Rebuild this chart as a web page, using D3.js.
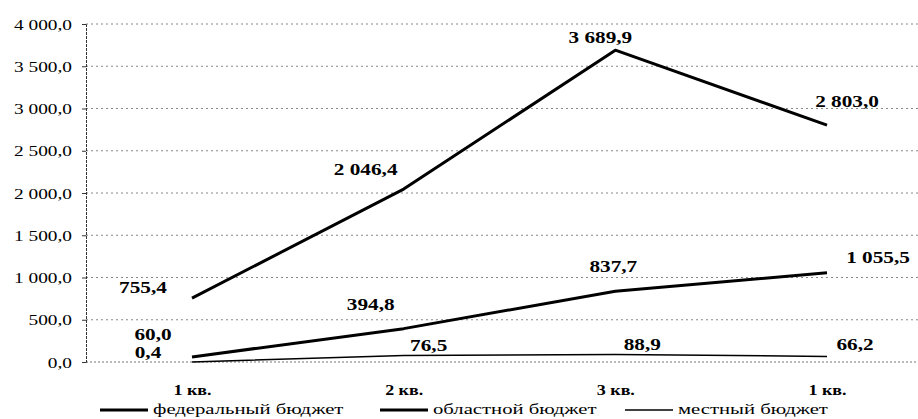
<!DOCTYPE html>
<html>
<head>
<meta charset="utf-8">
<script src="https://cdn.jsdelivr.net/npm/d3@7"></script>
<style>
  html, body { margin: 0; padding: 0; background: #fff; }
  svg { display: block; }
</style>
</head>
<body>
<svg id="chart" width="918" height="419"></svg>
<script>
// Quarters on the x axis
const quarters = ["1 кв.", "2 кв.", "3 кв.", "1 кв. "];
const quarterLabels = ["1 кв.", "2 кв.", "3 кв.", "1 кв."];

// Budget series
const federal = [755.4, 2046.4, 3689.9, 2803.0];
const regional = [60.0, 394.8, 837.7, 1055.5];
const local = [0.4, 76.5, 88.9, 66.2];

const seriesNames = ["федеральный бюджет", "областной бюджет", "местный бюджет"];

// Y axis ticks
const yTicks = [0, 500, 1000, 1500, 2000, 2500, 3000, 3500, 4000];

const FONT = "'Liberation Serif'";
// Glyphs are drawn horizontally widened
const SX = 1.38;

const svg = d3.select("#chart");
const fmt = v => {
  const s = d3.format(",.1f")(v);
  return s.replace(/,/g, " ").replace(".", ",");
};

const x = d3.scalePoint().domain(quarters).range([192, 827]);
const y = d3.scaleLinear().domain([0, 4000]).range([362, 24]);

// Dotted horizontal gridlines
svg.append("g").selectAll("line").data(yTicks.slice(1)).join("line")
  .attr("x1", 86).attr("x2", 918)
  .attr("y1", d => y(d)).attr("y2", d => y(d))
  .attr("stroke", "#888").attr("stroke-width", 1)
  .attr("stroke-dasharray", "2,3");

// Baseline
svg.append("line")
  .attr("x1", 86).attr("x2", 918).attr("y1", y(0)).attr("y2", y(0))
  .attr("stroke", "#777").attr("stroke-width", 1).attr("stroke-dasharray", "2,2");

// Y axis
const yAxis = d3.axisLeft(y).tickValues(yTicks).tickSize(4).tickFormat(fmt);
const gy = svg.append("g").attr("transform", "translate(86,0)").call(yAxis)
  .attr("font-family", FONT);
gy.select(".domain").attr("stroke", "#333").attr("stroke-dasharray", "3,1");
gy.selectAll(".tick line").attr("stroke", "#333");
gy.selectAll(".tick text")
  .attr("x", null).attr("dy", null)
  .attr("transform", `translate(-14,5) scale(${SX},1)`)
  .style("font-family", FONT)
  .style("font-size", "14px");

// X axis labels
const gx = svg.append("g").attr("transform", "translate(0,362)")
  .call(d3.axisBottom(x).tickSize(0).tickFormat((d, i) => quarterLabels[i]))
  .attr("font-family", FONT);
gx.select(".domain").remove();
gx.selectAll(".tick text")
  .attr("y", null).attr("dy", null)
  .attr("transform", `translate(0,33) scale(1.2,1)`)
  .style("font-family", FONT)
  .style("font-size", "15px").style("font-weight", "bold");

// Lines
const line = d3.line().x((d, i) => x(quarters[i])).y(d => y(d));
const styles = [
  { data: federal, width: 3 },
  { data: regional, width: 3 },
  { data: local, width: 1.5 }
];
styles.forEach(s => {
  svg.append("path").datum(s.data)
    .attr("fill", "none").attr("stroke", "#000")
    .attr("stroke-width", s.width).attr("stroke-linejoin", "round")
    .attr("d", line);
});

// Value label offsets relative to each point
const labelOffsets = [
  [[-49, -5], [-38, -14], [-15, -7], [20, -18]],
  [[-39, -17], [-33, -19], [-2, -19], [51, -10]],
  [[-44, -4], [25, -5], [27, -4], [28, -6]]
];
styles.forEach((s, si) => {
  svg.append("g").selectAll("text").data(s.data).join("text")
    .attr("transform", (d, i) =>
      `translate(${x(quarters[i]) + labelOffsets[si][i][0]},${y(d) + labelOffsets[si][i][1]}) scale(1.25,1)`)
    .attr("text-anchor", "middle")
    .style("font-family", FONT)
    .style("font-size", "17px").style("font-weight", "bold")
    .text(d => fmt(d));
});

// Legend
const legendX = [100, 380, 625];
const lg = svg.append("g");
seriesNames.forEach((name, i) => {
  lg.append("line")
    .attr("x1", legendX[i]).attr("x2", legendX[i] + 48)
    .attr("y1", 410).attr("y2", 410)
    .attr("stroke", "#000").attr("stroke-width", styles[i].width);
  lg.append("text")
    .attr("transform", `translate(${legendX[i] + 53},414) scale(${SX},1)`)
    .style("font-family", FONT)
    .style("font-size", "15px")
    .text(name);
});
</script>
</body>
</html>
